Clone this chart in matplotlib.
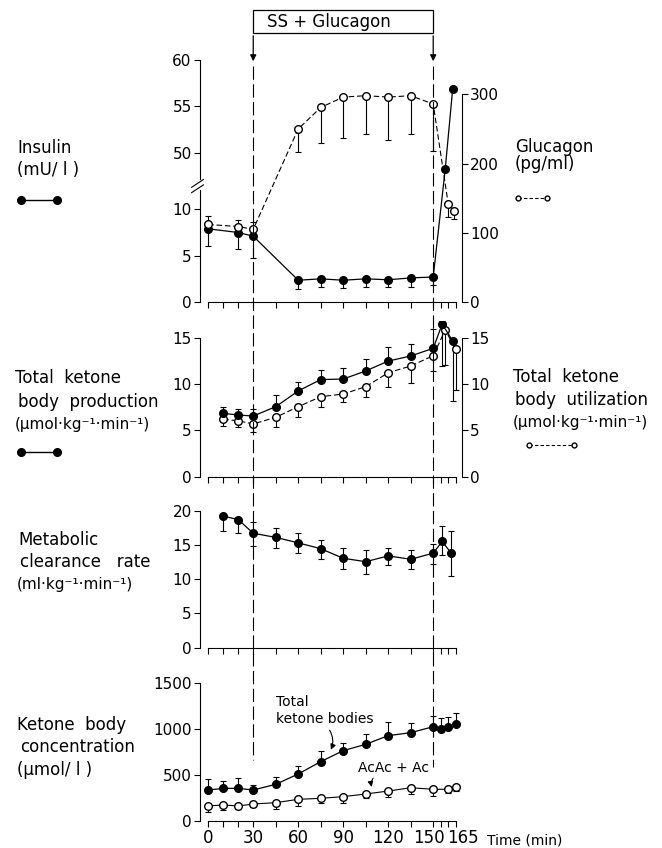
import numpy as np
import matplotlib
matplotlib.use('Agg')
import matplotlib.pyplot as plt
from matplotlib.transforms import blended_transform_factory, ScaledTranslation
from matplotlib.patches import Rectangle, FancyArrowPatch
from matplotlib.lines import Line2D

plt.rcParams['font.family'] = 'DejaVu Sans'

# ---- data ----
# panel 1: insulin (mU/l) and glucagon (pg/ml)
t_ins = [0, 20, 30, 60, 75, 90, 105, 120, 135, 150, 158, 163]
insulin = [7.9, 7.5, 7.1, 2.35, 2.5, 2.35, 2.5, 2.4, 2.6, 2.7, 48.2, 56.9]
insulin_lo = [1.9, 1.8, 2.4, 1.0, 0.85, 0.8, 0.9, 0.8, 1.0, 0.9, 0, 0]
insulin_hi = [0, 0, 0, 0, 0, 0, 0, 0, 0, 0, 0, 0]

t_glu = [0, 20, 30, 60, 75, 90, 105, 120, 135, 150, 160, 164]
glucagon = [112, 109, 105, 250, 281, 296, 298, 296, 298, 286, 142, 132]
glucagon_lo = [0, 0, 0, 33, 51, 59, 56, 62, 55, 68, 19, 12]
glucagon_hi = [12, 9, 10, 0, 0, 0, 0, 0, 0, 0, 0, 0]

# panel 2: total ketone body production / utilization
t_prod = [10, 20, 30, 45, 60, 75, 90, 105, 120, 135, 150, 156, 163]
production = [6.85, 6.67, 6.56, 7.57, 9.27, 10.5, 10.56, 11.43, 12.5, 13.05, 13.88, 16.5, 14.67]
production_lo = [0, 0, 0, 0, 0, 0, 0, 0, 0, 0, 0, 4.5, 6.5]
production_hi = [0.72, 0.61, 0.72, 1.26, 1.0, 1.03, 1.22, 1.29, 1.55, 1.3, 2.1, 0, 0]

t_util = [10, 20, 30, 45, 60, 75, 90, 105, 120, 135, 150, 158, 165]
utilization = [6.2, 6.05, 5.7, 6.42, 7.57, 8.65, 8.94, 9.73, 11.24, 11.97, 13.08, 15.86, 13.8]
utilization_lo = [0.7, 0.71, 0.83, 1.02, 1.08, 1.08, 0.9, 1.08, 1.51, 1.81, 1.62, 3.8, 4.4]
utilization_hi = [0] * 13

# panel 3: metabolic clearance rate
t_mcr = [10, 20, 30, 45, 60, 75, 90, 105, 120, 135, 150, 156, 162]
mcr = [19.2, 18.7, 16.7, 16.1, 15.3, 14.45, 13.05, 12.55, 13.4, 12.9, 13.8, 15.5, 13.8]
mcr_lo = [2.1, 2.0, 1.85, 1.6, 1.5, 1.5, 1.55, 1.85, 1.4, 1.4, 1.6, 2.0, 3.3]
mcr_hi = [0, 0, 1.7, 1.3, 1.5, 1.25, 1.45, 1.65, 1.2, 1.3, 1.3, 2.2, 3.3]

# panel 4: ketone body concentration
t_tkb = [0, 10, 20, 30, 45, 60, 75, 90, 105, 120, 135, 150, 155, 160, 165]
tkb = [336, 354, 354, 336, 398, 510, 644, 763, 832, 926, 958, 1023, 995, 1023, 1049]
tkb_hi = [120, 83, 109, 54, 83, 87, 116, 80, 112, 145, 109, 116, 119, 109, 119]

t_acac = [0, 10, 20, 30, 45, 60, 75, 90, 105, 120, 135, 150, 160, 165]
acac = [163, 174, 163, 184, 199, 235, 246, 264, 293, 325, 361, 344, 344, 365]
acac_lo = [62, 55, 33, 29, 65, 69, 54, 65, 47, 61, 68, 69, 44, 40]

xticks = [0, 10, 20, 30, 45, 60, 75, 90, 105, 120, 135, 150, 155, 160, 165]
xlabels = [0, 30, 60, 90, 120, 150, 165]
infusion = (30, 150)

W, H = 662, 848
fig = plt.figure(figsize=(W / 100, H / 100), dpi=100)


def px_axes(top, bottom):
    return fig.add_axes([200 / W, 1 - bottom / H, 261.7 / W, (bottom - top) / H])


def style_x(ax, labels=False):
    ax.set_xlim(-5.5, 169)
    ax.spines['top'].set_visible(False)
    ax.spines['bottom'].set_bounds(0, 165)
    ax.set_xticks(xticks)
    ax.tick_params(axis='x', direction='out', length=4, width=0.8)
    if labels:
        ax.set_xticklabels([str(t) if t in xlabels else '' for t in xticks], fontsize=12)
        ax.tick_params(axis='x', pad=2)
    else:
        ax.set_xticklabels([])
    ax.tick_params(axis='y', direction='out', length=4, width=0.8, labelsize=11, pad=2)
    for s in ax.spines.values():
        s.set_linewidth(0.8)


def errbars(ax, t, y, lo, hi):
    t, y, lo, hi = map(np.asarray, (t, y, lo, hi))
    m = (lo > 0) | (hi > 0)
    ax.errorbar(t[m], y[m], yerr=[lo[m], hi[m]], fmt='none', ecolor='k',
                elinewidth=0.8, capsize=2.5, capthick=0.8, zorder=2)


def filled(ax, t, y):
    ax.plot(t, y, '-o', color='k', lw=0.9, ms=5.5, zorder=3)


def hollow(ax, t, y):
    ax.plot(t, y, '--o', color='k', lw=0.8, ms=5.5, mfc='white', dashes=(5, 2.5), zorder=3)


# ---- panel 1 (broken insulin axis) ----
brk_in = [0, 12.7, 46.6, 61]
brk_out = [0, 12.7, 12.72, 27.12]
ax1 = px_axes(60, 302)
ax1.set_yscale('function', functions=(lambda v: np.interp(v, brk_in, brk_out),
                                      lambda p: np.interp(p, brk_out, brk_in)))
ax1.set_ylim(0, 60)
style_x(ax1)
ax1.set_yticks([0, 5, 10, 50, 55, 60])
ax1.set_yticklabels(['0', '5', '10', '50', '55', '60'])
ax1.spines['right'].set_visible(False)
ax1.spines['left'].set_bounds(0, 12.1)
ax1.plot([0, 0], [47.2, 60], color='k', lw=0.8, transform=ax1.get_yaxis_transform(), clip_on=False)
for dy in (0.0, 0.022):
    ax1.plot([-0.032, 0.013], [0.452 + dy, 0.484 + dy], color='k', lw=0.8,
             transform=ax1.transAxes, clip_on=False)
ax1r = ax1.twinx()
ax1r.set_ylim(0, 242 / 0.6923)
ax1r.set_yticks([0, 100, 200, 300])
for s in ('left', 'top', 'bottom'):
    ax1r.spines[s].set_visible(False)
ax1r.spines['right'].set_bounds(0, 300)
ax1r.spines['right'].set_linewidth(0.8)
ax1r.tick_params(axis='y', direction='out', length=4, width=0.8, labelsize=11, pad=2)
errbars(ax1, t_ins, insulin, insulin_lo, insulin_hi)
filled(ax1, t_ins, insulin)
errbars(ax1r, t_glu, glucagon, glucagon_lo, glucagon_hi)
hollow(ax1r, t_glu, glucagon)

# ---- panel 2 ----
ax2 = px_axes(321.3, 476.7)
ax2.set_ylim(0, 16.8)
style_x(ax2)
ax2.set_yticks([0, 5, 10, 15])
ax2.yaxis.set_ticks_position('both')
ax2.tick_params(axis='y', labelright=True)
ax2.spines['left'].set_bounds(0, 15)
ax2.spines['right'].set_bounds(0, 15)
errbars(ax2, t_prod, production, production_lo, production_hi)
errbars(ax2, t_util, utilization, utilization_lo, utilization_hi)
hollow(ax2, t_util, utilization)
filled(ax2, t_prod, production)

# ---- panel 3 ----
ax3 = px_axes(503.8, 647.7)
ax3.set_ylim(0, 21)
style_x(ax3)
ax3.set_yticks([0, 5, 10, 15, 20])
ax3.spines['right'].set_visible(False)
ax3.spines['left'].set_bounds(0, 20)
errbars(ax3, t_mcr, mcr, mcr_lo, mcr_hi)
filled(ax3, t_mcr, mcr)

# ---- panel 4 ----
ax4 = px_axes(673.5, 821)
ax4.set_ylim(0, 1600)
style_x(ax4, labels=True)
ax4.set_yticks([0, 500, 1000, 1500])
ax4.spines['right'].set_visible(False)
ax4.spines['left'].set_bounds(0, 1500)
# squeeze "150" and "165" apart like the original
for lbl in ax4.get_xticklabels():
    shift = {'150': -3, '165': 5}.get(lbl.get_text(), 0)
    if shift:
        lbl.set_transform(lbl.get_transform() + ScaledTranslation(shift / 72, 0, fig.dpi_scale_trans))
errbars(ax4, t_tkb, tkb, [0] * len(tkb), tkb_hi)
errbars(ax4, t_acac, acac, acac_lo, [0] * len(acac))
filled(ax4, t_tkb, tkb)
ax4.plot(t_acac, acac, '-o', color='k', lw=0.8, ms=5.5, mfc='white', zorder=3)
ax4.text(45, 1200, 'Total\nketone bodies', fontsize=10, ha='left', va='center', linespacing=1.25)
ax4.annotate('', xy=(81, 745), xytext=(80, 1010),
             arrowprops=dict(arrowstyle='-|>', color='k', lw=0.8, mutation_scale=8,
                             connectionstyle='arc3,rad=-0.3'))
ax4.text(100, 575, 'AcAc + Ac', fontsize=10, ha='left', va='center')
ax4.annotate('', xy=(109.5, 340), xytext=(111, 490),
             arrowprops=dict(arrowstyle='-|>', color='k', lw=0.8, mutation_scale=8,
                             connectionstyle='arc3,rad=0.3'))

# ---- infusion box, arrows and dashed lines ----
bt = blended_transform_factory(ax4.transData, fig.transFigure)
fig.add_artist(Rectangle((infusion[0], 1 - 33 / H), infusion[1] - infusion[0], 23 / H,
                         transform=bt, fill=False, lw=0.9, ec='k'))
fig.text(267 / W, 1 - 22 / H, 'SS + Glucagon', fontsize=12, ha='left', va='center')
for t, yend in zip(infusion, (760, 767)):
    fig.add_artist(FancyArrowPatch((t, 1 - 33 / H), (t, 1 - 64 / H), transform=bt,
                                   arrowstyle='-|>', mutation_scale=9, lw=0.9, color='k'))
    fig.add_artist(Line2D([t, t], [1 - 66 / H, 1 - yend / H], transform=bt,
                          color='k', lw=0.8, ls=(0, (12, 4))))


# ---- side labels ----
def label(x, y, s, size=12):
    fig.text(x / W, 1 - y / H, s, fontsize=size, ha='left', va='center')


units = '(µmol·kg⁻¹·min⁻¹)'

label(17, 148, 'Insulin')
label(17, 170, '(mU/ l )')
fig.add_artist(Line2D([21 / W, 57 / W], [1 - 200 / H] * 2, color='k', lw=1, marker='o', ms=5.5))

label(15, 378, 'Total  ketone')
label(18, 402, 'body  production')
label(15, 425, units, 11)
fig.add_artist(Line2D([21 / W, 57 / W], [1 - 452 / H] * 2, color='k', lw=1, marker='o', ms=5.5))

label(18, 540, 'Metabolic')
label(20, 562, 'clearance   rate')
label(17, 585, '(ml·kg⁻¹·min⁻¹)', 11)

label(17, 725, 'Ketone  body')
label(20, 747, 'concentration')
label(17, 770, '(µmol/ l )')

label(515, 147, 'Glucagon')
label(515, 164, '(pg/ml)')
fig.add_artist(Line2D([518 / W, 547 / W], [1 - 198 / H] * 2, color='k', lw=0.8, ls=(0, (3, 2)),
                      marker='o', ms=3.5, mfc='white'))

label(513, 377, 'Total  ketone')
label(515, 400, 'body  utilization')
label(513, 422, units, 11)
fig.add_artist(Line2D([529 / W, 574 / W], [1 - 445 / H] * 2, color='k', lw=0.8, ls=(0, (3, 2)),
                      marker='o', ms=3.5, mfc='white'))

fig.text(487 / W, 1 - 840 / H, 'Time (min)', fontsize=10, ha='left', va='center')

fig.savefig('out.png', dpi=100)
